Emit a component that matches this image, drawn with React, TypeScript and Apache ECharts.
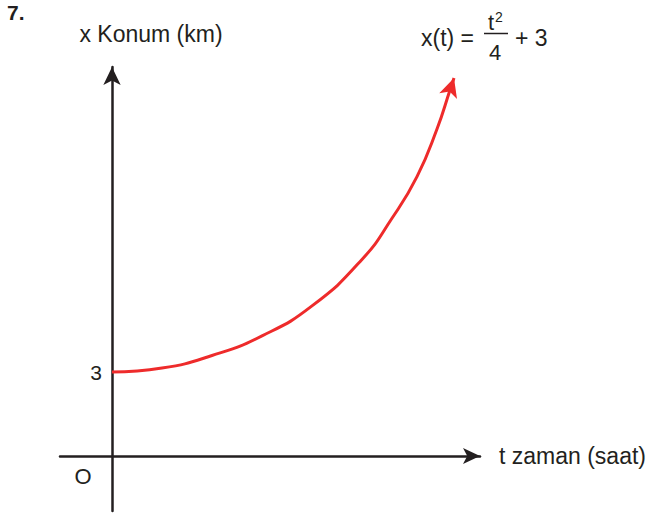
import React, { useEffect, useRef } from "react";
import * as echarts from "echarts";

// Curve points: [t (saat), x (km)]
const curveT = [0, 1, 2, 3, 4, 5, 5.6, 6.1, 6.5, 6.76, 6.84];
const curveX = [3, 3.14, 3.59, 4.29, 5.36, 7.02, 8.49, 9.98, 11.68, 13.07, 13.5];
const yTickLabels = [3];
const xName = "t zaman (saat)";
const yName = "x Konum (km)";

const FONT = "'Liberation Sans', Arial, Helvetica, sans-serif";
const INK = "#231f20";
const RED = "#ee2b2b";

export default function App() {
  const ref = useRef<HTMLDivElement>(null);
  useEffect(() => {
    if (!ref.current) return;
    const chart = echarts.init(ref.current, undefined, { renderer: "svg" });
    const last = curveT.length - 1;
    const data = curveT.map((t, i) =>
      i === last
        ? {
            value: [t, curveX[i]],
            symbol: "arrow",
            symbolSize: [14, 19],
            symbolRotate: -18,
            itemStyle: { color: RED },
          }
        : { value: [t, curveX[i]], symbol: "none" }
    );
    chart.setOption({
      animation: false,
      backgroundColor: "#ffffff",
      grid: { left: 60, right: 174, top: 67, bottom: 4, containLabel: false },
      xAxis: {
        type: "value",
        min: -1.04,
        max: 7.36,
        name: xName,
        nameLocation: "end",
        nameGap: 19,
        nameTextStyle: { fontFamily: FONT, fontSize: 23, color: INK, verticalAlign: "middle" },
        axisLine: {
          show: true,
          onZero: true,
          symbol: ["none", "arrow"],
          symbolSize: [12, 17],
          lineStyle: { color: INK, width: 2.5 },
        },
        axisTick: { show: false },
        axisLabel: { show: false },
        splitLine: { show: false },
      },
      yAxis: {
        type: "value",
        min: -1.964,
        max: 13.893,
        name: yName,
        nameLocation: "end",
        nameGap: 22,
        nameTextStyle: {
          fontFamily: FONT,
          fontSize: 23,
          color: INK,
          align: "center",
          padding: [0, 0, 0, 78],
        },
        axisLine: {
          show: true,
          onZero: true,
          symbol: ["none", "arrow"],
          symbolSize: [13, 18],
          lineStyle: { color: INK, width: 2.5 },
        },
        axisTick: { show: false },
        axisLabel: {
          show: true,
          customValues: yTickLabels,
          margin: -42,
          fontFamily: FONT,
          fontSize: 21,
          color: INK,
          padding: [0, 0, 8, 0],
        },
        splitLine: { show: false },
      },
      series: [
        {
          type: "line",
          data,
          smooth: 0.5,
          showSymbol: true,
          lineStyle: { color: RED, width: 3 },
          itemStyle: { color: RED },
          z: 5,
        },
      ],
      graphic: [
        {
          type: "text",
          left: 7,
          top: 2,
          style: { text: "7.", font: `bold 21px ${FONT}`, fill: INK },
        },
        {
          type: "text",
          x: 83,
          y: 476,
          style: { text: "O", font: `22px ${FONT}`, fill: INK, align: "center", verticalAlign: "middle" },
        },
        {
          type: "text",
          x: 421,
          y: 38,
          style: { text: "x(t) =", font: `23px ${FONT}`, fill: INK, align: "left", verticalAlign: "middle" },
        },
        {
          type: "text",
          x: 491,
          y: 22,
          style: { text: "t", font: `22px ${FONT}`, fill: INK, align: "center", verticalAlign: "middle" },
        },
        {
          type: "text",
          x: 495,
          y: 17,
          style: { text: "2", font: `14px ${FONT}`, fill: INK, align: "left", verticalAlign: "middle" },
        },
        {
          type: "line",
          shape: { x1: 484, y1: 33.5, x2: 508, y2: 33.5 },
          style: { stroke: INK, lineWidth: 1.5 },
        },
        {
          type: "text",
          x: 495,
          y: 52,
          style: { text: "4", font: `22px ${FONT}`, fill: INK, align: "center", verticalAlign: "middle" },
        },
        {
          type: "text",
          x: 515,
          y: 38,
          style: { text: "+ 3", font: `23px ${FONT}`, fill: INK, align: "left", verticalAlign: "middle" },
        },
      ],
    });
    return () => chart.dispose();
  }, []);
  return (
    <div
      ref={ref}
      style={{ position: "fixed", left: 0, top: 0, width: 654, height: 515, background: "#fff" }}
    />
  );
}
